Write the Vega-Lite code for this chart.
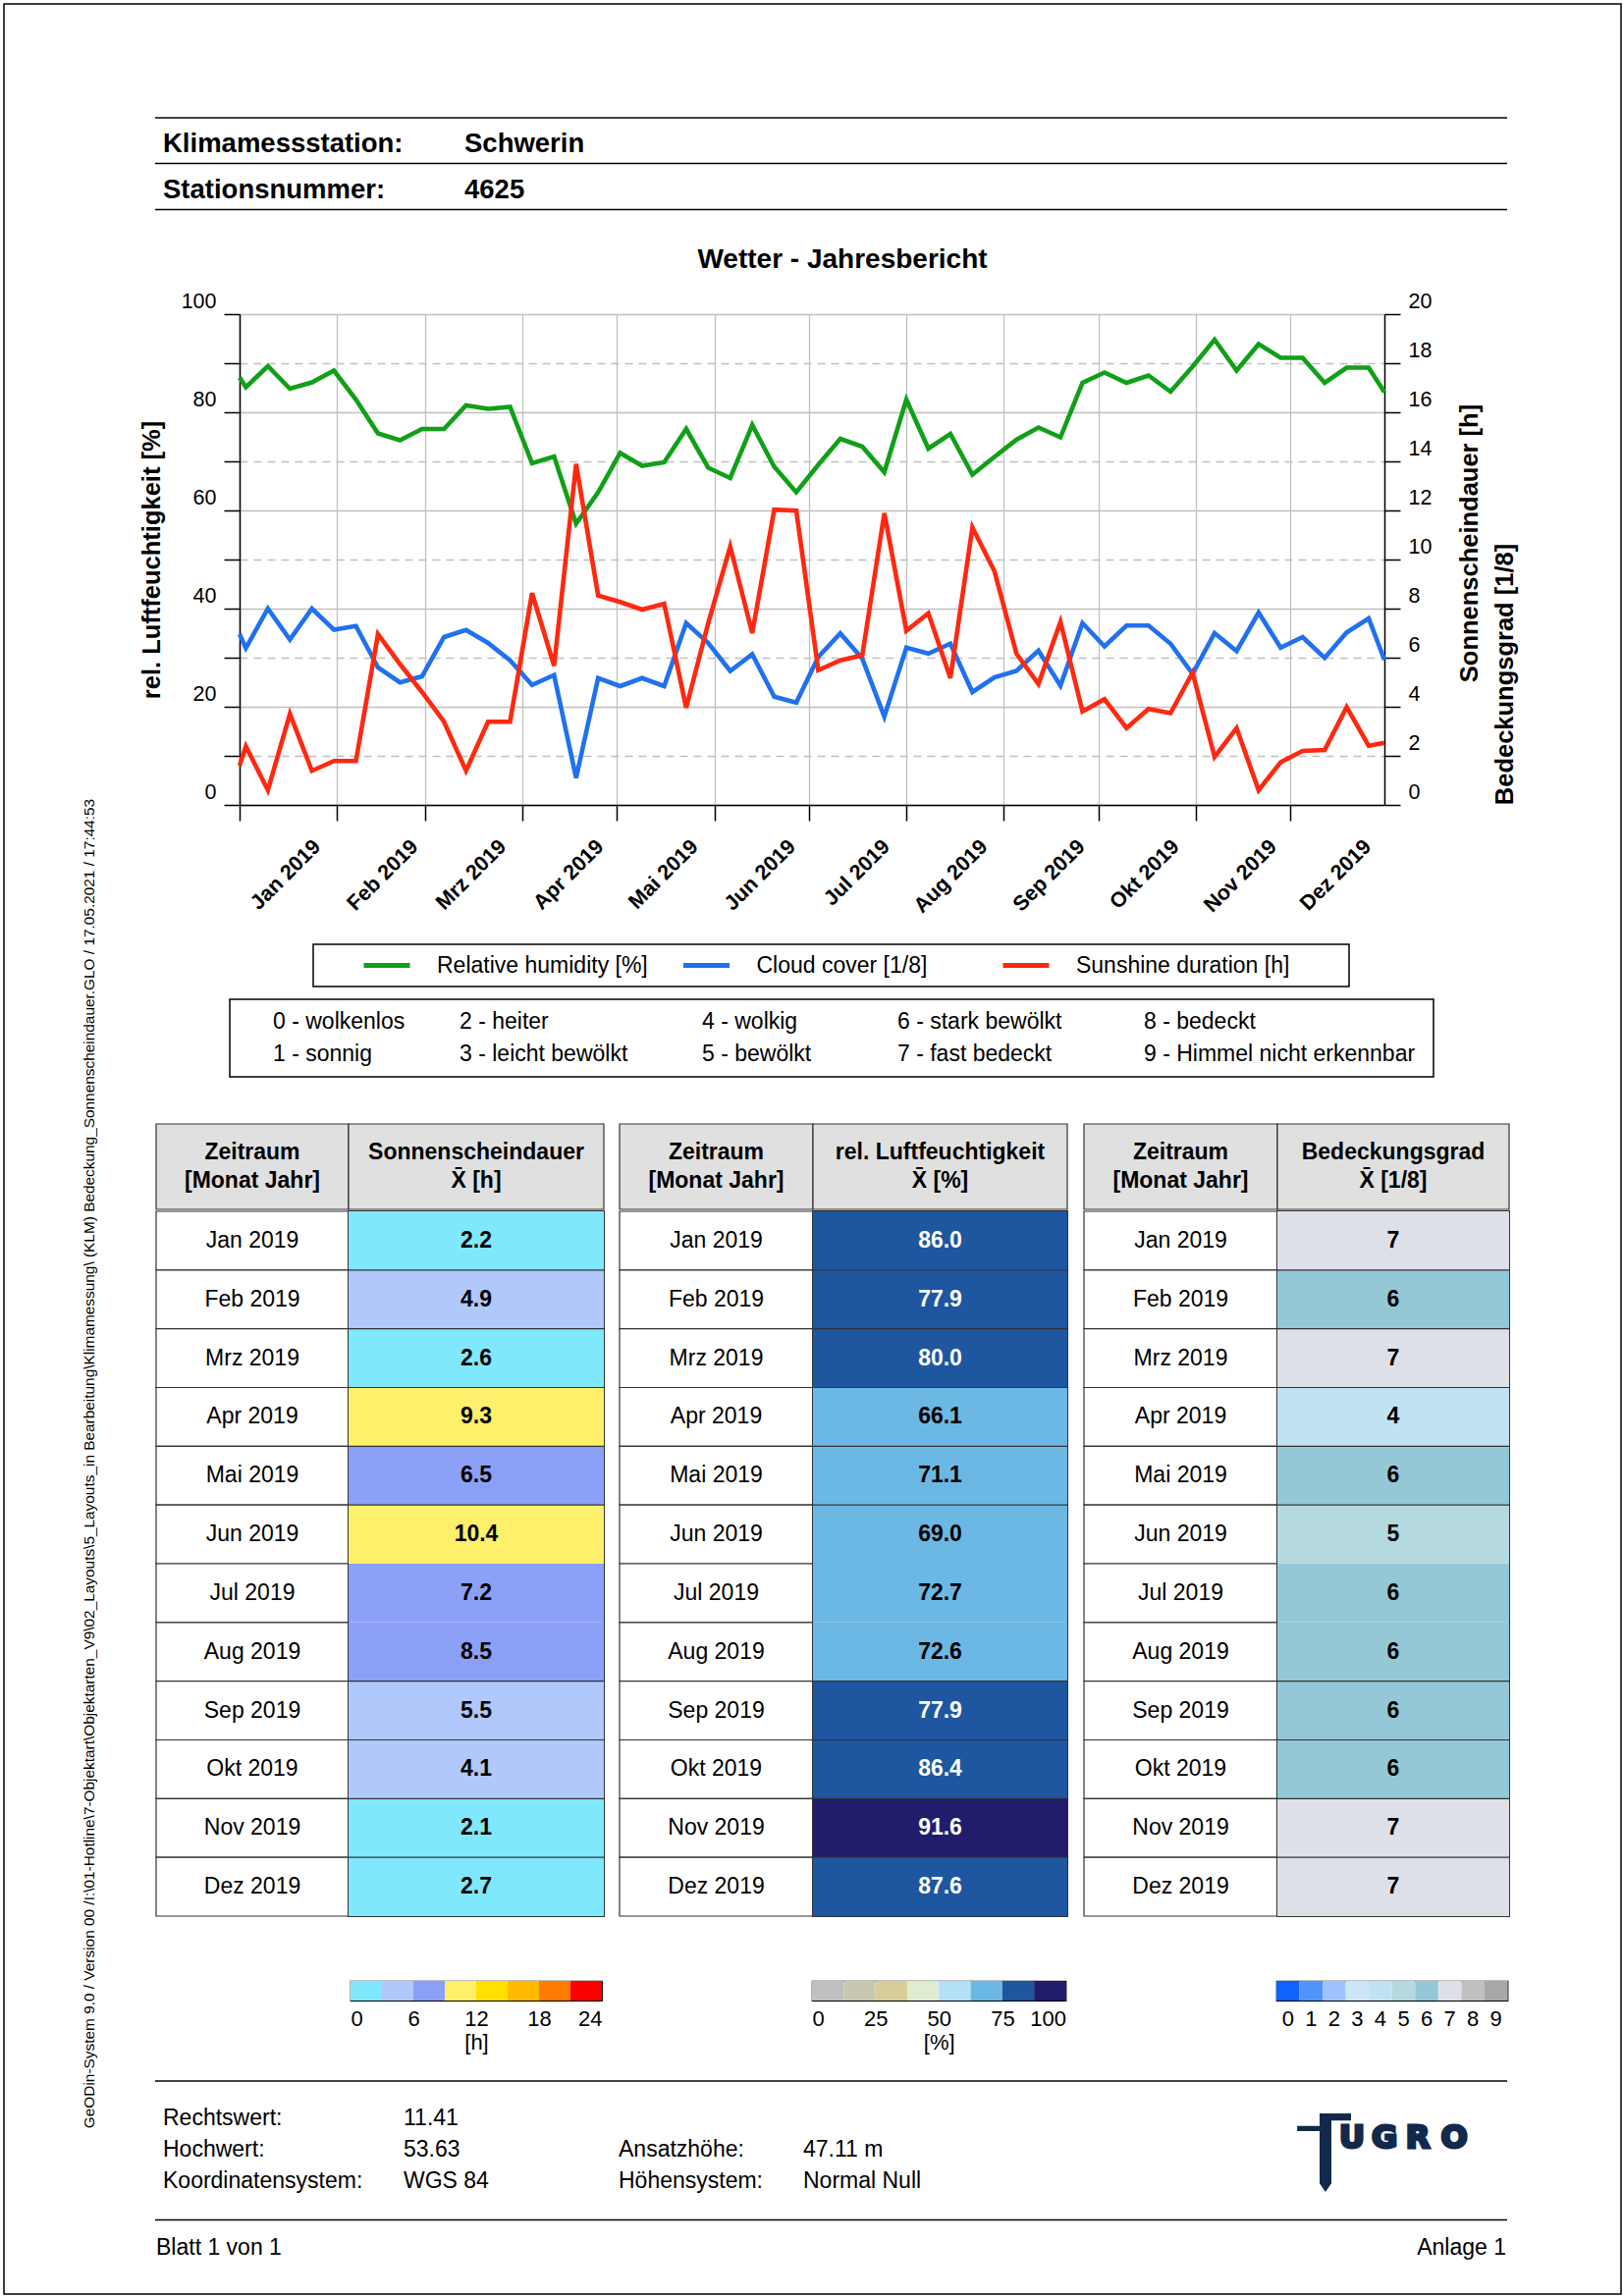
{
"$schema":"https://vega.github.io/schema/vega-lite/v6.json",
"background":"white",
"padding":{"left":3,"top":3,"right":0,"bottom":0},
"spacing":0,"bounds":"flush",
"resolve":{"scale":{"x":"independent","y":"independent","color":"independent","fill":"independent"},"axis":{"x":"independent","y":"independent"}},
"datasets":{
"weekly":[
{"d":"2019-01-01","rh":87.1,"cc":6.96,"sun":1.6},
{"d":"2019-01-03","rh":85.1,"cc":6.39,"sun":2.39},
{"d":"2019-01-10","rh":89.4,"cc":8.0,"sun":0.6},
{"d":"2019-01-17","rh":84.8,"cc":6.74,"sun":3.71},
{"d":"2019-01-24","rh":86.1,"cc":8.0,"sun":1.39},
{"d":"2019-01-31","rh":88.5,"cc":7.14,"sun":1.79},
{"d":"2019-02-07","rh":82.6,"cc":7.29,"sun":1.79},
{"d":"2019-02-14","rh":75.7,"cc":5.6,"sun":6.96},
{"d":"2019-02-21","rh":74.3,"cc":4.99,"sun":5.74},
{"d":"2019-02-28","rh":76.6,"cc":5.24,"sun":4.6},
{"d":"2019-03-07","rh":76.6,"cc":6.84,"sun":3.39},
{"d":"2019-03-14","rh":81.4,"cc":7.13,"sun":1.39},
{"d":"2019-03-21","rh":80.7,"cc":6.6,"sun":3.39},
{"d":"2019-03-28","rh":81.1,"cc":5.89,"sun":3.39},
{"d":"2019-04-04","rh":69.6,"cc":4.89,"sun":8.63},
{"d":"2019-04-11","rh":71.0,"cc":5.29,"sun":5.67},
{"d":"2019-04-18","rh":57.3,"cc":1.1,"sun":13.89},
{"d":"2019-04-25","rh":63.7,"cc":5.17,"sun":8.53},
{"d":"2019-05-02","rh":71.7,"cc":4.84,"sun":8.27},
{"d":"2019-05-09","rh":69.1,"cc":5.17,"sun":7.96},
{"d":"2019-05-16","rh":69.8,"cc":4.84,"sun":8.2},
{"d":"2019-05-23","rh":76.6,"cc":7.41,"sun":3.96},
{"d":"2019-05-30","rh":68.7,"cc":6.6,"sun":7.41},
{"d":"2019-06-06","rh":66.6,"cc":5.46,"sun":10.53},
{"d":"2019-06-13","rh":77.4,"cc":6.14,"sun":7.0},
{"d":"2019-06-20","rh":68.9,"cc":4.41,"sun":12.03},
{"d":"2019-06-27","rh":63.7,"cc":4.17,"sun":11.99},
{"d":"2019-07-04","rh":69.3,"cc":6.03,"sun":5.49},
{"d":"2019-07-11","rh":74.6,"cc":6.99,"sun":5.89},
{"d":"2019-07-18","rh":73.0,"cc":5.96,"sun":6.1},
{"d":"2019-07-25","rh":67.8,"cc":3.6,"sun":11.89},
{"d":"2019-08-01","rh":82.6,"cc":6.41,"sun":7.1},
{"d":"2019-08-08","rh":72.6,"cc":6.17,"sun":7.81},
{"d":"2019-08-15","rh":75.6,"cc":6.57,"sun":5.17},
{"d":"2019-08-22","rh":67.3,"cc":4.6,"sun":11.31},
{"d":"2019-08-29","rh":70.9,"cc":5.2,"sun":9.53},
{"d":"2019-09-05","rh":74.4,"cc":5.46,"sun":6.17},
{"d":"2019-09-12","rh":76.9,"cc":6.29,"sun":4.93},
{"d":"2019-09-19","rh":74.9,"cc":4.86,"sun":7.46},
{"d":"2019-09-26","rh":86.0,"cc":7.41,"sun":3.81},
{"d":"2019-10-03","rh":88.1,"cc":6.46,"sun":4.31},
{"d":"2019-10-10","rh":86.0,"cc":7.31,"sun":3.13},
{"d":"2019-10-17","rh":87.5,"cc":7.31,"sun":3.91},
{"d":"2019-10-24","rh":84.2,"cc":6.57,"sun":3.74},
{"d":"2019-10-31","rh":89.3,"cc":5.34,"sun":5.39},
{"d":"2019-11-07","rh":94.8,"cc":7.0,"sun":1.96},
{"d":"2019-11-14","rh":88.5,"cc":6.27,"sun":3.13},
{"d":"2019-11-21","rh":93.9,"cc":7.84,"sun":0.6},
{"d":"2019-11-28","rh":91.1,"cc":6.41,"sun":1.74},
{"d":"2019-12-05","rh":91.1,"cc":6.84,"sun":2.2},
{"d":"2019-12-12","rh":86.0,"cc":5.99,"sun":2.24},
{"d":"2019-12-19","rh":89.1,"cc":7.03,"sun":3.99},
{"d":"2019-12-26","rh":89.1,"cc":7.6,"sun":2.41},
{"d":"2019-12-31","rh":84.1,"cc":5.91,"sun":2.53}
],
"monthly":[
{"m":"Jan 2019","sun":2.2,"rh":86.0,"cc":7},
{"m":"Feb 2019","sun":4.9,"rh":77.9,"cc":6},
{"m":"Mrz 2019","sun":2.6,"rh":80.0,"cc":7},
{"m":"Apr 2019","sun":9.3,"rh":66.1,"cc":4},
{"m":"Mai 2019","sun":6.5,"rh":71.1,"cc":6},
{"m":"Jun 2019","sun":10.4,"rh":69.0,"cc":5},
{"m":"Jul 2019","sun":7.2,"rh":72.7,"cc":6},
{"m":"Aug 2019","sun":8.5,"rh":72.6,"cc":6},
{"m":"Sep 2019","sun":5.5,"rh":77.9,"cc":6},
{"m":"Okt 2019","sun":4.1,"rh":86.4,"cc":6},
{"m":"Nov 2019","sun":2.1,"rh":91.6,"cc":7},
{"m":"Dez 2019","sun":2.7,"rh":87.6,"cc":7}
],
"legendItems":[{"k":"rh","label":"Relative humidity [%]"},{"k":"cc","label":"Cloud cover [1/8]"},{"k":"sun","label":"Sunshine duration [h]"}],
"codes":[{"c":0,"r":0,"t":"0 - wolkenlos"},{"c":0,"r":1,"t":"1 - sonnig"},{"c":1,"r":0,"t":"2 - heiter"},{"c":1,"r":1,"t":"3 - leicht bewölkt"},{"c":2,"r":0,"t":"4 - wolkig"},{"c":2,"r":1,"t":"5 - bewölkt"},{"c":3,"r":0,"t":"6 - stark bewölkt"},{"c":3,"r":1,"t":"7 - fast bedeckt"},{"c":4,"r":0,"t":"8 - bedeckt"},{"c":4,"r":1,"t":"9 - Himmel nicht erkennbar"}],
"sunbar":[{"lo":0,"hi":3},{"lo":3,"hi":6},{"lo":6,"hi":9},{"lo":9,"hi":12},{"lo":12,"hi":15},{"lo":15,"hi":18},{"lo":18,"hi":21},{"lo":21,"hi":24}],
"rhbar":[{"lo":0,"hi":12.5},{"lo":12.5,"hi":25},{"lo":25,"hi":37.5},{"lo":37.5,"hi":50},{"lo":50,"hi":62.5},{"lo":62.5,"hi":75},{"lo":75,"hi":87.5},{"lo":87.5,"hi":100}],
"ccbar":[{"c":0},{"c":1},{"c":2},{"c":3},{"c":4},{"c":5},{"c":6},{"c":7},{"c":8},{"c":9}]
},
"hconcat":[
{"width":127,"height":2333,
 "layer":[
  {"data":{"values":[{}]},"mark":{"type":"rect","filled":false,"fill":null,"stroke":"black","strokeWidth":1.5},
   "encoding":{"x":{"datum":0,"type":"quantitative","scale":{"domain":[0,1],"range":[0,1647],"nice":false,"zero":false},"axis":null},"x2":{"datum":1},
     "y":{"datum":0,"type":"quantitative","scale":{"domain":[0,1],"range":[0,2333],"nice":false,"zero":false},"axis":null},"y2":{"datum":1}}},
  {"data":{"values":[{"t":"GeODin-System 9.0 / Version 00 /I:\\01-Hotline\\7-Objektart\\Objektarten_V9\\02_Layouts\\5_Layouts_in Bearbeitung\\Klimamessung\\ (KLM) Bedeckung_Sonnenscheindauer.GLO / 17.05.2021 / 17:44:53"}]},
   "mark":{"type":"text","angle":270,"fontSize":15.4,"dx":-320.5,"dy":23,"align":"center","baseline":"middle"},"encoding":{"text":{"field":"t"}}}
 ]},
{"vconcat":[
 {"width":1,"height":115,"data":{"values":[]},"mark":"point"},
 {"hconcat":[
  {"width":27,"height":1,"data":{"values":[]},"mark":"point"},
  {"width":1377,"height":175.5,
   "layer":[
    {"data":{"values":[{"r":0},{"r":2},{"r":4}]},"mark":{"type":"rule","stroke":"black","strokeWidth":1.5},
     "encoding":{"y":{"field":"r","type":"quantitative","scale":{"domain":[0,1,2,3,4,5],"range":[0,27,46.5,74,93.5,145],"nice":false,"zero":false},"axis":null}}},
    {"data":{"values":[{"r":1,"c":0,"t":"Klimamessstation:"},{"r":1,"c":1,"t":"Schwerin"},{"r":3,"c":0,"t":"Stationsnummer:"},{"r":3,"c":1,"t":"4625"}]},
     "mark":{"type":"text","align":"left","baseline":"middle","fontSize":27.5,"fontWeight":"bold"},
     "encoding":{"x":{"field":"c","type":"quantitative","scale":{"domain":[0,1,2],"range":[8,315,700],"nice":false,"zero":false},"axis":null},
       "y":{"field":"r","type":"quantitative","axis":null},"text":{"field":"t"}}},
    {"data":{"values":[{"r":5,"c":2,"t":"Wetter - Jahresbericht"}]},
     "mark":{"type":"text","align":"center","baseline":"middle","fontSize":28,"fontWeight":"bold"},
     "encoding":{"x":{"field":"c","type":"quantitative","axis":null},"y":{"field":"r","type":"quantitative","axis":null},"text":{"field":"t"}}}
   ]}
 ],"spacing":0,"bounds":"flush"},

 {"hconcat":[
  {"width":113,"height":640.5,"data":{"values":[]},"mark":"point"},
  {"width":1166,"height":500,"data":{"name":"weekly"},
   "encoding":{"x":{"field":"d","type":"temporal",
     "scale":{"type":"utc","domain":[{"year":2019,"month":1,"date":1,"utc":true},{"year":2019,"month":12,"date":31,"utc":true}],"nice":false},
     "axis":{"tickCount":{"interval":"month","step":1},"grid":true,"gridColor":"#c0c0c0","gridWidth":1.3,"tickSize":16,"tickColor":"black","tickWidth":1.5,"domainColor":"black","domainWidth":1.5,
       "labelExpr":"['Jan','Feb','Mrz','Apr','Mai','Jun','Jul','Aug','Sep','Okt','Nov','Dez'][utcmonth(datum.value)] + ' ' + utcyear(datum.value)",
       "labelAngle":-45,"labelAlign":"right","labelBaseline":"middle","labelOffset":79,"labelPadding":23,"labelFontSize":21.5,"labelFontWeight":"bold","labelFlush":false,"labelOverlap":false,"title":null}}},
   "layer":[
    {"mark":{"type":"line","color":"#10a018","strokeWidth":4.6},
     "encoding":{"y":{"field":"rh","type":"quantitative","scale":{"domain":[0,100],"nice":false},
       "axis":{"orient":"left","values":[0,10,20,30,40,50,60,70,80,90,100],"labelExpr":"datum.value % 20 === 0 ? datum.label : ''",
         "grid":true,"gridColor":"#c0c0c0","gridWidth":1.3,"gridDash":{"condition":{"test":"datum.value % 20 !== 0","value":[8,6]},"value":[]},
         "tickSize":16,"tickColor":"black","tickWidth":1.5,"domainColor":"black","domainWidth":1.5,
         "labelFontSize":21.5,"labelPadding":8,"labelOffset":-13,
         "title":"rel. Luftfeuchtigkeit [%]","titleFontSize":25.5,"titleFontWeight":"bold","titleX":-90,"titleY":250,"titleAngle":270,"titleAlign":"center","titleBaseline":"middle"}}}},
    {"mark":{"type":"line","color":"#2070f0","strokeWidth":4.6},
     "encoding":{"y":{"field":"cc","type":"quantitative","scale":{"domain":[0,20],"nice":false},
       "axis":{"orient":"right","domain":false,"ticks":false,"labels":false,"grid":false,
         "title":"Bedeckungsgrad [1/8]","titleFontSize":25.5,"titleFontWeight":"bold","titleX":122,"titleY":366.5,"titleAngle":270,"titleAlign":"center","titleBaseline":"middle"}}}},
    {"mark":{"type":"line","color":"#ff2810","strokeWidth":4.6},
     "encoding":{"y":{"field":"sun","type":"quantitative","scale":{"domain":[0,20],"nice":false},
       "axis":{"orient":"right","values":[0,2,4,6,8,10,12,14,16,18,20],"grid":false,"tickSize":16,"tickColor":"black","tickWidth":1.5,"domainColor":"black","domainWidth":1.5,
         "labelFontSize":21.5,"labelPadding":8,"labelOffset":-13,
         "title":"Sonnenscheindauer [h]","titleFontSize":25.5,"titleFontWeight":"bold","titleX":86,"titleY":233,"titleAngle":270,"titleAlign":"center","titleBaseline":"middle"}}}}
   ],
   "resolve":{"scale":{"y":"independent"},"axis":{"y":"independent"}}}
 ],"spacing":0,"bounds":"flush"},

 {"hconcat":[
  {"width":188,"height":54.5,"data":{"values":[]},"mark":"point"},
  {"width":1055,"height":43,"view":{"stroke":"black","strokeWidth":1.5},"data":{"name":"legendItems"},
   "encoding":{"x":{"field":"k","type":"nominal","sort":null,"scale":{"type":"band","paddingInner":0,"paddingOuter":0.1206,"align":0},"axis":null}},
   "layer":[
    {"mark":{"type":"point","shape":"stroke","size":2209,"strokeWidth":5,"opacity":1,"xOffset":-87.75},
     "encoding":{"color":{"field":"k","type":"nominal","scale":{"domain":["rh","cc","sun"],"range":["#10a018","#2070f0","#ff2810"]},"legend":null}}},
    {"mark":{"type":"text","align":"left","baseline":"middle","fontSize":23,"dx":-36.75},"encoding":{"text":{"field":"label"}}}
   ]}
 ],"spacing":0,"bounds":"flush"},

 {"hconcat":[
  {"width":103,"height":125.9,"data":{"values":[]},"mark":"point"},
  {"width":1226,"height":79,"view":{"stroke":"black","strokeWidth":1.5},"data":{"name":"codes"},
   "mark":{"type":"text","align":"left","baseline":"middle","fontSize":23},
   "encoding":{"x":{"field":"c","type":"quantitative","scale":{"domain":[0,1,2,3,4],"range":[44,234,481,680,931],"nice":false,"zero":false},"axis":null},
     "y":{"field":"r","type":"ordinal","scale":{"type":"band","paddingOuter":0.234,"paddingInner":0},"axis":null},
     "text":{"field":"t"}}}
 ],"spacing":0,"bounds":"flush"},

 {"hconcat":[
  {"width":27.5,"height":1,"data":{"values":[]},"mark":"point"},
  {"width":196,"height":87,"data":{"values":[{"t":"Zeitraum\n[Monat Jahr]"}]},"layer":[{"mark":{"type":"rect","fill":"#e0e0e0","stroke":"#333333","strokeWidth":1.2}},{"mark":{"type":"text","fontSize":23,"fontWeight":"bold","lineBreak":"\n","lineHeight":28.5,"baseline":"middle","dy":-14.25},"encoding":{"text":{"field":"t"}}}]},
  {"width":260,"height":87,"data":{"values":[{"t":"Sonnenscheindauer\nX\u0304 [h]"}]},"layer":[{"mark":{"type":"rect","fill":"#e0e0e0","stroke":"#333333","strokeWidth":1.2}},{"mark":{"type":"text","fontSize":23,"fontWeight":"bold","lineBreak":"\n","lineHeight":28.5,"baseline":"middle","dy":-14.25},"encoding":{"text":{"field":"t"}}}]},
  {"width":15.5,"height":1,"data":{"values":[]},"mark":"point"},
  {"width":197,"height":87,"data":{"values":[{"t":"Zeitraum\n[Monat Jahr]"}]},"layer":[{"mark":{"type":"rect","fill":"#e0e0e0","stroke":"#333333","strokeWidth":1.2}},{"mark":{"type":"text","fontSize":23,"fontWeight":"bold","lineBreak":"\n","lineHeight":28.5,"baseline":"middle","dy":-14.25},"encoding":{"text":{"field":"t"}}}]},
  {"width":259,"height":87,"data":{"values":[{"t":"rel. Luftfeuchtigkeit\nX\u0304 [%]"}]},"layer":[{"mark":{"type":"rect","fill":"#e0e0e0","stroke":"#333333","strokeWidth":1.2}},{"mark":{"type":"text","fontSize":23,"fontWeight":"bold","lineBreak":"\n","lineHeight":28.5,"baseline":"middle","dy":-14.25},"encoding":{"text":{"field":"t"}}}]},
  {"width":16.5,"height":1,"data":{"values":[]},"mark":"point"},
  {"width":197,"height":87,"data":{"values":[{"t":"Zeitraum\n[Monat Jahr]"}]},"layer":[{"mark":{"type":"rect","fill":"#e0e0e0","stroke":"#333333","strokeWidth":1.2}},{"mark":{"type":"text","fontSize":23,"fontWeight":"bold","lineBreak":"\n","lineHeight":28.5,"baseline":"middle","dy":-14.25},"encoding":{"text":{"field":"t"}}}]},
  {"width":236,"height":87,"data":{"values":[{"t":"Bedeckungsgrad\nX\u0304 [1/8]"}]},"layer":[{"mark":{"type":"rect","fill":"#e0e0e0","stroke":"#333333","strokeWidth":1.2}},{"mark":{"type":"text","fontSize":23,"fontWeight":"bold","lineBreak":"\n","lineHeight":28.5,"baseline":"middle","dy":-14.25},"encoding":{"text":{"field":"t"}}}]}
 ],"spacing":0,"bounds":"flush"},

 {"hconcat":[
  {"width":27.5,"height":782.7,"data":{"values":[]},"mark":"point"},
  {"width":196,"height":718,"data":{"name":"monthly"},
   "encoding":{"y":{"field":"m","type":"nominal","sort":null,"scale":{"type":"band","paddingInner":0,"paddingOuter":0},"axis":null}},
   "layer":[{"mark":{"type":"rect","fill":"white","stroke":"#333333","strokeWidth":1.2}},
    {"mark":{"type":"text","fontSize":23,"baseline":"middle"},"encoding":{"text":{"field":"m"}}}]},
  {"width":260,"height":718,"data":{"name":"monthly"},"view":{"stroke":"#333333","strokeWidth":2},
   "encoding":{"y":{"field":"m","type":"nominal","sort":null,"scale":{"type":"band","domain":["Jan 2019","Feb 2019","Mrz 2019","Apr 2019","Mai 2019","Jun 2019","Jul 2019","Aug 2019","Sep 2019","Okt 2019","Nov 2019","Dez 2019"],"paddingInner":0,"paddingOuter":0},"axis":null}},
   "layer":[{"mark":{"type":"rect","strokeWidth":0},"encoding":{"fill":{"field":"sun","type":"quantitative","scale":{"type":"threshold","domain":[3,6,9,12,15,18,21],"range":["#80e8fc","#b0c8fc","#8ca0f8","#fef06a","#ffe000","#ffba00","#ff7c00","#f80000"]},"legend":null}}},
    {"transform":[{"filter":"datum.m !== 'Jan 2019' && datum.m !== 'Jul 2019' && datum.m !== 'Aug 2019'"}],"mark":{"type":"rule","stroke":"#333333","strokeWidth":1.2},"encoding":{"y":{"field":"m","type":"nominal","sort":null,"bandPosition":0}}},
    {"mark":{"type":"text","fontSize":23,"fontWeight":"bold","baseline":"middle"},"encoding":{"text":{"field":"sun","type":"quantitative","format":".1f"}}}]},
  {"width":15.5,"height":1,"data":{"values":[]},"mark":"point"},
  {"width":197,"height":718,"data":{"name":"monthly"},
   "encoding":{"y":{"field":"m","type":"nominal","sort":null,"scale":{"type":"band","paddingInner":0,"paddingOuter":0},"axis":null}},
   "layer":[{"mark":{"type":"rect","fill":"white","stroke":"#333333","strokeWidth":1.2}},
    {"mark":{"type":"text","fontSize":23,"baseline":"middle"},"encoding":{"text":{"field":"m"}}}]},
  {"width":259,"height":718,"data":{"name":"monthly"},"view":{"stroke":"#333333","strokeWidth":2},
   "encoding":{"y":{"field":"m","type":"nominal","sort":null,"scale":{"type":"band","domain":["Jan 2019","Feb 2019","Mrz 2019","Apr 2019","Mai 2019","Jun 2019","Jul 2019","Aug 2019","Sep 2019","Okt 2019","Nov 2019","Dez 2019"],"paddingInner":0,"paddingOuter":0},"axis":null}},
   "layer":[{"mark":{"type":"rect","strokeWidth":0},"encoding":{"fill":{"field":"rh","type":"quantitative","scale":{"type":"threshold","domain":[12.5,25,37.5,50,62.5,75,87.7],"range":["#c0c0c0","#c8c8b0","#d8cc98","#e0ecd0","#b4e0f8","#6cb8e4","#1e56a0","#221c6c"]},"legend":null}}},
    {"transform":[{"filter":"datum.m !== 'Jan 2019' && datum.m !== 'Jul 2019' && datum.m !== 'Aug 2019'"}],"mark":{"type":"rule","stroke":"#333333","strokeWidth":1.2},"encoding":{"y":{"field":"m","type":"nominal","sort":null,"bandPosition":0}}},
    {"mark":{"type":"text","fontSize":23,"fontWeight":"bold","baseline":"middle"},"encoding":{"text":{"field":"rh","type":"quantitative","format":".1f"},"color":{"condition":{"test":"datum.rh >= 75","value":"white"},"value":"black"}}}]},
  {"width":16.5,"height":1,"data":{"values":[]},"mark":"point"},
  {"width":197,"height":718,"data":{"name":"monthly"},
   "encoding":{"y":{"field":"m","type":"nominal","sort":null,"scale":{"type":"band","paddingInner":0,"paddingOuter":0},"axis":null}},
   "layer":[{"mark":{"type":"rect","fill":"white","stroke":"#333333","strokeWidth":1.2}},
    {"mark":{"type":"text","fontSize":23,"baseline":"middle"},"encoding":{"text":{"field":"m"}}}]},
  {"width":236,"height":718,"data":{"name":"monthly"},"view":{"stroke":"#333333","strokeWidth":2},
   "encoding":{"y":{"field":"m","type":"nominal","sort":null,"scale":{"type":"band","domain":["Jan 2019","Feb 2019","Mrz 2019","Apr 2019","Mai 2019","Jun 2019","Jul 2019","Aug 2019","Sep 2019","Okt 2019","Nov 2019","Dez 2019"],"paddingInner":0,"paddingOuter":0},"axis":null}},
   "layer":[{"mark":{"type":"rect","strokeWidth":0},"encoding":{"fill":{"field":"cc","type":"ordinal","scale":{"domain":[0,1,2,3,4,5,6,7,8,9],"range":["#0f62fe","#4f94fc","#a0c2fc","#cde6f6","#c2e2f4","#b4dadf","#94c8d6","#dde1e7","#c0c0c0","#a8a8a8"]},"legend":null}}},
    {"transform":[{"filter":"datum.m !== 'Jan 2019' && datum.m !== 'Jul 2019' && datum.m !== 'Aug 2019'"}],"mark":{"type":"rule","stroke":"#333333","strokeWidth":1.2},"encoding":{"y":{"field":"m","type":"nominal","sort":null,"bandPosition":0}}},
    {"mark":{"type":"text","fontSize":23,"fontWeight":"bold","baseline":"middle"},"encoding":{"text":{"field":"cc","type":"quantitative","format":"d"}}}]}
 ],"spacing":0,"bounds":"flush","resolve":{"scale":{"fill":"independent","color":"independent","y":"independent","x":"independent"}}},

 {"hconcat":[
  {"width":226,"height":100.75,"data":{"values":[]},"mark":"point"},
  {"width":256,"height":20,"view":{"stroke":"black","strokeWidth":1.2},"data":{"name":"sunbar"},"mark":{"type":"rect"},
   "encoding":{"x":{"field":"lo","type":"quantitative","scale":{"domain":[0,24],"nice":false,"zero":false},
     "axis":{"values":[0,6,12,18,24],"domain":false,"ticks":false,"grid":false,"labelFlush":true,"labelPadding":8,"labelFontSize":22,"title":"[h]","titleFontSize":22,"titleFontWeight":"normal","titlePadding":3}},
    "x2":{"field":"hi"},
    "fill":{"field":"lo","type":"quantitative","scale":{"type":"threshold","domain":[3,6,9,12,15,18,21],"range":["#80e8fc","#b0c8fc","#8ca0f8","#fef06a","#ffe000","#ffba00","#ff7c00","#f80000"]},"legend":null}}},
  {"width":214,"height":1,"data":{"values":[]},"mark":"point"},
  {"width":258.5,"height":20,"view":{"stroke":"black","strokeWidth":1.2},"data":{"name":"rhbar"},"mark":{"type":"rect"},
   "encoding":{"x":{"field":"lo","type":"quantitative","scale":{"domain":[0,100],"nice":false,"zero":false},
     "axis":{"values":[0,25,50,75,100],"domain":false,"ticks":false,"grid":false,"labelFlush":true,"labelPadding":8,"labelFontSize":22,"title":"[%]","titleFontSize":22,"titleFontWeight":"normal","titlePadding":3}},
    "x2":{"field":"hi"},
    "fill":{"field":"lo","type":"quantitative","scale":{"type":"threshold","domain":[12.5,25,37.5,50,62.5,75,87.5],"range":["#c0c0c0","#c8c8b0","#d8cc98","#e0ecd0","#b4e0f8","#6cb8e4","#1e56a0","#221c6c"]},"legend":null}}},
  {"width":214,"height":1,"data":{"values":[]},"mark":"point"},
  {"width":235.5,"height":20,"view":{"stroke":"black","strokeWidth":1.2},"data":{"name":"ccbar"},"mark":{"type":"rect"},
   "encoding":{"x":{"field":"c","type":"ordinal","scale":{"type":"band","paddingInner":0,"paddingOuter":0},
     "axis":{"domain":false,"ticks":false,"grid":false,"labelAngle":0,"labelPadding":8,"labelFontSize":22,"title":null}},
    "fill":{"field":"c","type":"ordinal","scale":{"domain":[0,1,2,3,4,5,6,7,8,9],"range":["#0f62fe","#4f94fc","#a0c2fc","#cde6f6","#c2e2f4","#b4dadf","#94c8d6","#dde1e7","#c0c0c0","#a8a8a8"]},"legend":null}}}
 ],"spacing":0,"bounds":"flush","resolve":{"scale":{"fill":"independent","x":"independent"},"axis":{"x":"independent"}}},

 {"hconcat":[
  {"width":27,"height":1,"data":{"values":[]},"mark":"point"},
  {"width":1377,"height":190,
   "layer":[
    {"data":{"values":[{"r":0},{"r":4}]},"mark":{"type":"rule","stroke":"black","strokeWidth":1.5},
     "encoding":{"y":{"field":"r","type":"quantitative","scale":{"domain":[0,1,2,3,4,5],"range":[0,38,70,102,141.5,169.5],"nice":false,"zero":false},"axis":null}}},
    {"data":{"values":[{"c":0,"r":1,"t":"Rechtswert:"},{"c":1,"r":1,"t":"11.41"},{"c":0,"r":2,"t":"Hochwert:"},{"c":1,"r":2,"t":"53.63"},{"c":2,"r":2,"t":"Ansatzhöhe:"},{"c":3,"r":2,"t":"47.11 m"},{"c":0,"r":3,"t":"Koordinatensystem:"},{"c":1,"r":3,"t":"WGS 84"},{"c":2,"r":3,"t":"Höhensystem:"},{"c":3,"r":3,"t":"Normal Null"}]},
     "mark":{"type":"text","align":"left","baseline":"middle","fontSize":23},
     "encoding":{"x":{"field":"c","type":"quantitative","scale":{"domain":[0,1,2,3,4,5,6,7,8,9],"range":[8,253,472,660,1192,1219,1252,1286,1323,1376],"nice":false,"zero":false},"axis":null},
       "y":{"field":"r","type":"quantitative","axis":null},"text":{"field":"t"}}},
    {"data":{"values":[{"c":0,"r":5,"t":"Blatt 1 von 1"}]},"mark":{"type":"text","align":"left","baseline":"middle","fontSize":23,"dx":-7},
     "encoding":{"x":{"field":"c","type":"quantitative","axis":null},"y":{"field":"r","type":"quantitative","axis":null},"text":{"field":"t"}}},
    {"data":{"values":[{"c":9,"r":5,"t":"Anlage 1"}]},"mark":{"type":"text","align":"right","baseline":"middle","fontSize":23},
     "encoding":{"x":{"field":"c","type":"quantitative","axis":null},"y":{"field":"r","type":"quantitative","axis":null},"text":{"field":"t"}}},
    {"data":{"values":[{"c":4,"r":2}]},"mark":{"type":"point","shape":"M-0.15,-1 L0.65,-1 L0.65,-0.82 L0.15,-0.82 L0.15,0.78 L0,1 L-0.15,0.78 L-0.15,-0.55 L-0.72,-0.55 L-0.72,-0.68 L-0.15,-0.68 Z","size":6400,"filled":true,"color":"#13294b","opacity":1,"strokeWidth":0,"yOffset":3},
     "encoding":{"x":{"field":"c","type":"quantitative","axis":null},"y":{"field":"r","type":"quantitative","axis":null}}},
    {"data":{"values":[{"c":5,"r":2,"t":"U"},{"c":6,"r":2,"t":"G"},{"c":7,"r":2,"t":"R"},{"c":8,"r":2,"t":"O"}]},"mark":{"type":"text","align":"center","baseline":"middle","fontSize":32,"fontWeight":"bold","font":"DejaVu Sans","color":"#13294b","stroke":"#13294b","strokeWidth":3,"strokeJoin":"miter","dy":-12.5},
     "encoding":{"x":{"field":"c","type":"quantitative","axis":null},"y":{"field":"r","type":"quantitative","axis":null},"text":{"field":"t"}}}
   ]}
 ],"spacing":0,"bounds":"flush"}
],"spacing":0,"resolve":{"scale":{"x":"independent","y":"independent","color":"independent","fill":"independent"},"axis":{"x":"independent","y":"independent"}}}
],
"config":{
 "view":{"stroke":null},
 "font":"Liberation Sans",
 "text":{"font":"Liberation Sans","color":"black"},
 "axis":{"labelFont":"Liberation Sans","titleFont":"Liberation Sans","labelColor":"black","titleColor":"black"},
 "title":{"font":"Liberation Sans","color":"black"}
}
}
